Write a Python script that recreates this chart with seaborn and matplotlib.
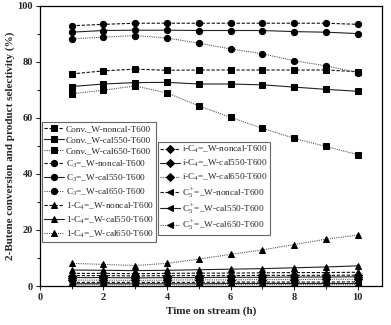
import numpy as np
import pandas as pd
import matplotlib
matplotlib.use("Agg")
import matplotlib.pyplot as plt
import seaborn as sns

## data
time_h = [1, 2, 3, 4, 5, 6, 7, 8, 9, 10]

conv_noncal = [75.7, 76.8, 77.4, 77.0, 77.1, 77.1, 77.1, 77.1, 77.1, 76.5]
conv_cal550 = [71.2, 72.1, 72.6, 72.7, 72.1, 72.1, 71.8, 71.0, 70.2, 69.5]
conv_cal650 = [68.6, 69.9, 71.4, 68.9, 64.3, 60.2, 56.3, 52.7, 49.8, 46.9]

c3_noncal = [92.9, 93.4, 93.8, 93.8, 93.8, 93.8, 93.8, 93.8, 93.8, 93.4]
c3_cal550 = [90.6, 91.2, 91.3, 91.3, 91.2, 91.2, 91.2, 90.8, 90.6, 90.1]
c3_cal650 = [88.2, 88.8, 89.4, 88.5, 86.7, 84.6, 82.9, 80.4, 78.6, 76.2]

c4_1_noncal = [4.5, 4.5, 4.4, 4.5, 4.6, 4.6, 4.7, 4.8, 4.8, 4.9]
c4_1_cal550 = [5.7, 5.6, 5.5, 5.6, 5.8, 6.0, 6.2, 6.5, 6.8, 7.2]
c4_1_cal650 = [8.1, 7.7, 7.3, 8.1, 9.6, 11.3, 12.9, 14.8, 16.7, 18.2]

ic4_noncal = [3.7, 3.7, 3.6, 3.7, 3.7, 3.7, 3.8, 3.8, 3.8, 3.9]
ic4_cal550 = [3.0, 3.0, 2.9, 3.0, 3.0, 3.1, 3.1, 3.2, 3.2, 3.3]
ic4_cal650 = [2.1, 2.1, 2.0, 2.1, 2.2, 2.2, 2.3, 2.3, 2.4, 2.4]

c5_noncal = [1.3, 1.3, 1.3, 1.3, 1.3, 1.4, 1.4, 1.4, 1.4, 1.5]
c5_cal550 = [0.8, 0.8, 0.8, 0.8, 0.8, 0.9, 0.9, 0.9, 0.9, 0.9]
c5_cal650 = [0.4, 0.4, 0.4, 0.4, 0.4, 0.5, 0.5, 0.5, 0.5, 0.5]

sns.set_style("ticks")
plt.rcParams['font.family'] = ['Liberation Serif', 'DejaVu Serif']
plt.rcParams['mathtext.fontset'] = 'custom'
plt.rcParams['mathtext.rm'] = 'Liberation Serif'
plt.rcParams['mathtext.it'] = 'Liberation Serif:italic'
plt.rcParams['mathtext.bf'] = 'Liberation Serif:bold'

fig = plt.figure(figsize=(3.91, 3.25), dpi=100)
ax = fig.add_axes([0.102, 0.12, 0.874, 0.862])

samples = ['W-noncal-T600', 'W-cal550-T600', 'W-cal650-T600']
styles = [(0, (3, 1.5)), '-', (0, (1, 1))]
colors = ['#111111', '#222222', '#555555']

groups = [
    ('Conv._', 's', [conv_noncal, conv_cal550, conv_cal650]),
    (r'C$_3$=_', 'o', [c3_noncal, c3_cal550, c3_cal650]),
    (r'1-C$_4$=_', '^', [c4_1_noncal, c4_1_cal550, c4_1_cal650]),
    (r'i-C$_4$=_', 'D', [ic4_noncal, ic4_cal550, ic4_cal650]),
    (r'C$_5^+$=_', '<', [c5_noncal, c5_cal550, c5_cal650]),
]

handles = []
for prefix, mk, series in groups:
    for name, vals, ls, col in zip(samples, series, styles, colors):
        df = pd.DataFrame({'Time': time_h, 'Value': vals})
        sns.lineplot(data=df, x='Time', y='Value', ax=ax, color=col,
                     linestyle=ls, linewidth=0.8, marker=mk,
                     markersize=4.5 if mk != 'D' else 3.8,
                     markerfacecolor='black', markeredgecolor='black',
                     label=prefix + name, legend=False)
        handles.append(ax.lines[-1])

ax.set_xlim(0, 10.75)
ax.set_ylim(0, 100)
ax.set_xticks([0, 2, 4, 6, 8, 10])
ax.set_xticks([1, 3, 5, 7, 9], minor=True)
ax.set_yticks([0, 20, 40, 60, 80, 100])
ax.set_yticks([10, 30, 50, 70, 90], minor=True)
ax.tick_params(which='major', direction='out', length=3, width=0.8, labelsize=7.5, pad=2)
ax.tick_params(which='minor', direction='out', length=2, width=0.8)
for lab in ax.get_xticklabels() + ax.get_yticklabels():
    lab.set_fontweight('bold')
for sp in ax.spines.values():
    sp.set_visible(True)
    sp.set_linewidth(0.9)
    sp.set_color('black')

ax.set_xlabel('Time on stream (h)', fontsize=8, fontweight='bold', labelpad=3)
ax.set_ylabel('2-Butene conversion and product selectivity (%)', fontsize=8,
              fontweight='bold', labelpad=2)

leg_kw = dict(loc='upper left', frameon=True, fancybox=False,
              edgecolor='#666666', framealpha=1, borderaxespad=0,
              labelspacing=0.3, handlelength=2.1, handletextpad=0.2,
              borderpad=0.25,
              prop={'family': 'Liberation Serif', 'size': 6.7})
leg1 = ax.legend(handles=handles[:9], bbox_to_anchor=(0.006, 0.585), **leg_kw)
leg1.get_frame().set_linewidth(0.8)
ax.add_artist(leg1)
leg2 = ax.legend(handles=handles[9:], bbox_to_anchor=(0.345, 0.515), **leg_kw)
leg2.get_frame().set_linewidth(0.8)

fig.savefig('out.png', dpi=100)
